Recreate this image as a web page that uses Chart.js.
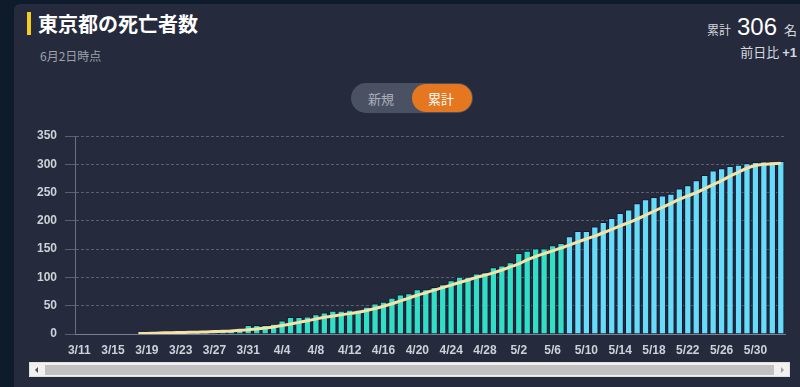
<!DOCTYPE html>
<html><head><meta charset="utf-8">
<script src="https://cdn.jsdelivr.net/npm/chart.js@4"></script>
<style>
html,body{margin:0;padding:0;width:800px;height:387px;overflow:hidden;background:#0d1b2a;}
#card{position:absolute;left:14px;top:4px;width:800px;height:400px;background:#252a3c;border-radius:6px;}
#c{position:absolute;left:0;top:0;}
.t{position:absolute;white-space:nowrap;font-family:"Noto Sans CJK JP","Noto Sans",sans-serif;}
#accent{position:absolute;left:27px;top:12px;width:4px;height:23px;background:#f2cf1f;}
#title{left:38px;top:11px;font-size:20px;font-weight:700;color:#ffffff;line-height:26px;}
#sub{left:40px;top:48px;font-size:12px;color:#9da2ad;line-height:16px;}
#totlab{left:707px;top:22px;font-size:12px;color:#d5d8df;line-height:16px;}
#totnum{left:737px;top:13px;font-size:24px;color:#ffffff;font-family:"Liberation Sans",Arial,sans-serif;line-height:28px;}
#totunit{left:784px;top:21px;font-size:13px;color:#d5d8df;line-height:17px;}
#diff{right:3px;top:43px;font-size:13px;color:#d5d8df;line-height:17px;}
#diff b{font-family:"Liberation Sans",Arial,sans-serif;font-weight:700;}
#toggle{position:absolute;left:351px;top:83px;width:122px;height:30px;border-radius:15px;background:#4a5163;}
#tnew{left:368px;top:90px;font-size:13px;color:#aab0bb;line-height:17px;}
#tsum{position:absolute;left:412px;top:84px;width:60px;height:28px;border-radius:14px;background:#e4771f;}
#tsumt{left:428px;top:90px;font-size:13px;color:#ffffff;line-height:17px;}
#sb{position:absolute;left:29px;top:362px;width:761px;height:15px;background:#f1f1f1;border:1px solid #e0e0e0;box-sizing:border-box;}
#thumb{position:absolute;left:15px;top:2px;width:729px;height:10px;background:#c1c1c1;}
#al{position:absolute;left:5px;top:4px;width:0;height:0;border-top:3px solid transparent;border-bottom:3px solid transparent;border-right:3px solid #505050;}
#ar{position:absolute;right:5px;top:4px;width:0;height:0;border-top:3px solid transparent;border-bottom:3px solid transparent;border-left:3px solid #a0a0a0;}
</style></head>
<body>
<div id="card"></div>
<div id="accent"></div>
<div class="t" id="title">東京都の死亡者数</div>
<div class="t" id="sub">6月2日時点</div>
<div class="t" id="totlab">累計</div>
<div class="t" id="totnum">306</div>
<div class="t" id="totunit">名</div>
<div class="t" id="diff">前日比 <b>+1</b></div>
<div id="toggle"></div>
<div class="t" id="tnew">新規</div>
<div id="tsum"></div>
<div class="t" id="tsumt">累計</div>
<canvas id="c" width="800" height="387"></canvas>
<div id="sb"><div id="thumb"></div><div id="al"></div><div id="ar"></div></div>
<script>
const dates = ['3/11','3/12','3/13','3/14','3/15','3/16','3/17','3/18','3/19','3/20','3/21','3/22','3/23','3/24','3/25','3/26','3/27','3/28','3/29','3/30','3/31',
'4/1','4/2','4/3','4/4','4/5','4/6','4/7','4/8','4/9','4/10','4/11','4/12','4/13','4/14','4/15','4/16','4/17','4/18','4/19','4/20','4/21','4/22','4/23','4/24','4/25','4/26','4/27','4/28','4/29','4/30',
'5/1','5/2','5/3','5/4','5/5','5/6','5/7','5/8','5/9','5/10','5/11','5/12','5/13','5/14','5/15','5/16','5/17','5/18','5/19','5/20','5/21','5/22','5/23','5/24','5/25','5/26','5/27','5/28','5/29','5/30','5/31',
'6/1','6/2'];
const cumulative = [0,0,0,0,0,0,0,1,1,2,2,2,3,3,3,4,5,6,7,8,16,
16,16,18,24,30,30,31,35,38,41,41,43,43,48,54,57,64,70,72,79,79,83,88,95,101,101,107,109,118,121,
127,143,147,151,151,157,161,173,182,182,190,198,205,214,220,231,238,242,245,248,257,263,272,281,289,293,297,299,302,304,305,
305,306];
const average = [null,null,null,null,null,null,null,1,1,1.5,2,2.3,2.6,3,3.3,3.7,4.2,4.8,5.5,6.5,7.5,
8.8,10.5,12.5,15,17.5,20.5,23.5,26.5,29.5,32,34,36,38.5,41.5,45,49,53.5,58.5,63.5,68.5,73,77.5,82,86.5,91,95.5,100,104,108,113,
118.5,124,131,137,142,147,152,157,163,168,173,179,185,191,197,203,210,217,224,231,238,244,250,257,264,271,279,286,293,298,300,
301,302];
const yTicks = [0,50,100,150,200,250,300,350];
const firstBlueIndex = 58;
const barColors = cumulative.map((v,i)=> i>=firstBlueIndex ? '#64dcfa' : '#31dfc7');

new Chart(document.getElementById('c'), {
  type:'bar',
  data:{labels:dates, datasets:[
    {type:'line', data:average, borderColor:'#f5e2a6', borderWidth:3, pointRadius:0, tension:0.4, fill:false, order:0, spanGaps:false},
    {type:'bar', data:cumulative, backgroundColor:barColors, borderColor:'#1b1630', borderWidth:1, barPercentage:0.86, categoryPercentage:1, order:1}
  ]},
  options:{
    responsive:false, animation:false,
    plugins:{legend:{display:false}, tooltip:{enabled:false}},
    layout:{padding:{left:0,right:15,top:136,bottom:23}},
    scales:{
      x:{
        grid:{display:false, drawTicks:false},
        border:{display:true, color:'#7a7f8f', width:1},
        ticks:{autoSkip:false, maxRotation:0, padding:9, color:'#cdd1d9', font:{family:'"Liberation Sans", Arial, sans-serif', size:12, weight:'bold'},
          callback:function(v,i){return i%4===0 ? dates[i] : '';}},
        afterFit:function(s){s.height=30;}
      },
      y:{
        min:0, max:350,
        afterBuildTicks:function(s){s.ticks = yTicks.map(v=>({value:v}));},
        grid:{color:'#596072', lineWidth:1, tickLength:10, drawTicks:true, tickColor:'#596072'},
        border:{display:true, color:'#6c7182', width:1, dash:[3,2]},
        ticks:{padding:8, color:'#cdd1d9', font:{family:'"Liberation Sans", Arial, sans-serif', size:12, weight:'bold'}},
        afterFit:function(s){s.width=75;}
      }
    }
  }
});
</script>
</body></html>
